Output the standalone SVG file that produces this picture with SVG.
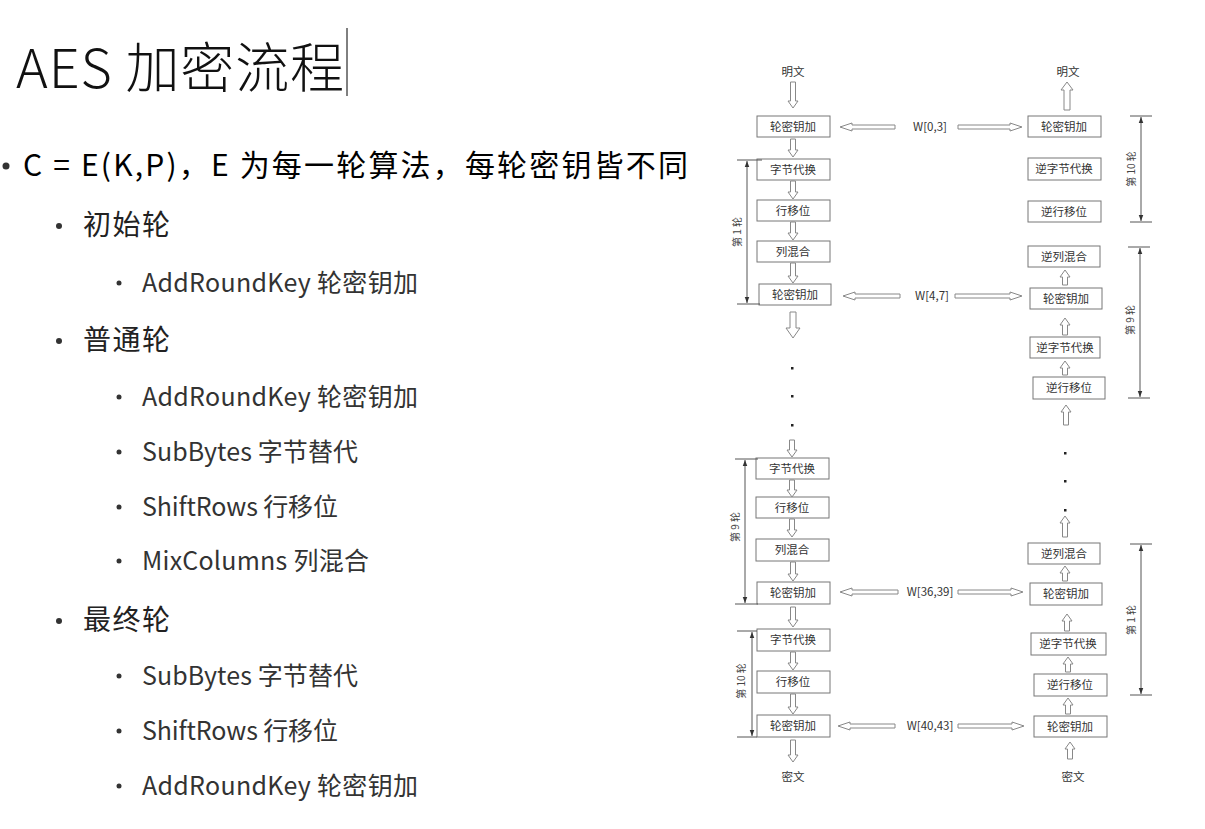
<svg xmlns="http://www.w3.org/2000/svg" width="1205" height="829" viewBox="0 0 1205 829">
<style>
.title{font-family:"Noto Sans CJK SC","Noto Sans",sans-serif;font-weight:300;font-size:54px;fill:#111}
.l1{font-family:"Noto Sans CJK SC","Noto Sans",sans-serif;font-size:30px;fill:#000}
.l2{font-family:"Noto Sans CJK SC","Noto Sans",sans-serif;font-size:28px;fill:#222}
.l3{font-family:"Noto Sans CJK SC","Noto Sans",sans-serif;font-size:25px;fill:#333}
.bul{fill:#333}
.box rect{fill:#fff;stroke:#777;stroke-width:1}
.box text,.lbl{font-family:"Noto Sans CJK SC","Liberation Sans",sans-serif;font-size:11.5px;fill:#333;text-anchor:middle}
.harr path,.varr path{fill:#fff;stroke:#888;stroke-width:1}
.br line{stroke:#555;stroke-width:1}
.rl{font-family:"Noto Sans CJK SC","Liberation Sans",sans-serif;font-size:10px;fill:#444;text-anchor:middle}
.dot{fill:#222}
</style>
<defs>
<marker id="ah" viewBox="0 0 8 8" refX="8" refY="4" markerWidth="6" markerHeight="6" orient="auto-start-reverse" markerUnits="userSpaceOnUse">
<path d="M0 1 L8 4 L0 7 Z" fill="#333"/>
</marker>
</defs>
<rect width="1205" height="829" fill="#fff"/>

<g id="text-panel">
<text class="title" x="16" y="88" textLength="328" lengthAdjust="spacing">AES 加密流程</text>
<line x1="347" y1="28" x2="347" y2="96" stroke="#000" stroke-width="1"/>
<circle class="bul" cx="6" cy="166" r="3.5"/>
<text class="l1" x="23" y="176" textLength="665" lengthAdjust="spacing">C = E(K,P)，E 为每一轮算法，每轮密钥皆不同</text>
<circle class="bul" cx="59" cy="226" r="3"/>
<text class="l2" x="83" y="235" textLength="87" lengthAdjust="spacing">初始轮</text>
<circle class="bul" cx="119" cy="283" r="2.5"/>
<text class="l3" x="142" y="292" textLength="276" lengthAdjust="spacing">AddRoundKey 轮密钥加</text>
<circle class="bul" cx="59" cy="341" r="3"/>
<text class="l2" x="83" y="350" textLength="87" lengthAdjust="spacing">普通轮</text>
<circle class="bul" cx="119" cy="397" r="2.5"/>
<text class="l3" x="142" y="406" textLength="276" lengthAdjust="spacing">AddRoundKey 轮密钥加</text>
<circle class="bul" cx="119" cy="452" r="2.5"/>
<text class="l3" x="142" y="461" textLength="216" lengthAdjust="spacing">SubBytes 字节替代</text>
<circle class="bul" cx="119" cy="507" r="2.5"/>
<text class="l3" x="142" y="516" textLength="196" lengthAdjust="spacing">ShiftRows 行移位</text>
<circle class="bul" cx="119" cy="561" r="2.5"/>
<text class="l3" x="142" y="570" textLength="227" lengthAdjust="spacing">MixColumns 列混合</text>
<circle class="bul" cx="59" cy="621" r="3"/>
<text class="l2" x="83" y="630" textLength="87" lengthAdjust="spacing">最终轮</text>
<circle class="bul" cx="119" cy="676" r="2.5"/>
<text class="l3" x="142" y="685" textLength="216" lengthAdjust="spacing">SubBytes 字节替代</text>
<circle class="bul" cx="119" cy="731" r="2.5"/>
<text class="l3" x="142" y="740" textLength="196" lengthAdjust="spacing">ShiftRows 行移位</text>
<circle class="bul" cx="119" cy="786" r="2.5"/>
<text class="l3" x="142" y="795" textLength="276" lengthAdjust="spacing">AddRoundKey 轮密钥加</text>
</g>

<g id="labels">
<text class="lbl" x="793" y="76">明文</text>
<text class="lbl" x="1068" y="76">明文</text>
<text class="lbl" x="793" y="781">密文</text>
<text class="lbl" x="1073" y="781">密文</text>
<text class="lbl" x="930" y="131">W[0,3]</text>
<text class="lbl" x="932" y="300">W[4,7]</text>
<text class="lbl" x="930" y="596">W[36,39]</text>
<text class="lbl" x="930" y="730">W[40,43]</text>
</g>

<g id="enc-boxes" class="box">
<g id="e1"><rect x="757" y="116" width="73" height="21"/><text x="793" y="131">轮密钥加</text></g>
<g id="e2"><rect x="757" y="159" width="73" height="21"/><text x="793" y="174">字节代换</text></g>
<g id="e3"><rect x="757" y="200" width="73" height="21"/><text x="793" y="215">行移位</text></g>
<g id="e4"><rect x="757" y="241" width="73" height="21"/><text x="793" y="256">列混合</text></g>
<g id="e5"><rect x="759" y="284" width="72" height="21"/><text x="795" y="299">轮密钥加</text></g>
<g id="e6"><rect x="756" y="458" width="73" height="21"/><text x="792" y="473">字节代换</text></g>
<g id="e7"><rect x="756" y="497" width="73" height="21"/><text x="792" y="512">行移位</text></g>
<g id="e8"><rect x="756" y="539" width="73" height="22"/><text x="792" y="554">列混合</text></g>
<g id="e9"><rect x="757" y="582" width="73" height="22"/><text x="793" y="597">轮密钥加</text></g>
<g id="e10"><rect x="757" y="629" width="73" height="22"/><text x="793" y="644">字节代换</text></g>
<g id="e11"><rect x="757" y="671" width="73" height="22"/><text x="793" y="686">行移位</text></g>
<g id="e12"><rect x="757" y="715" width="73" height="22"/><text x="793" y="730">轮密钥加</text></g>
</g>

<g id="dec-boxes" class="box">
<g id="d1"><rect x="1028" y="116" width="73" height="21"/><text x="1064" y="131">轮密钥加</text></g>
<g id="d2"><rect x="1028" y="158" width="73" height="22"/><text x="1064" y="173">逆字节代换</text></g>
<g id="d3"><rect x="1028" y="201" width="73" height="21"/><text x="1064" y="216">逆行移位</text></g>
<g id="d4"><rect x="1028" y="246" width="72" height="21"/><text x="1064" y="261">逆列混合</text></g>
<g id="d5"><rect x="1030" y="288" width="72" height="21"/><text x="1066" y="303">轮密钥加</text></g>
<g id="d6"><rect x="1030" y="337" width="70" height="21"/><text x="1065" y="352">逆字节代换</text></g>
<g id="d7"><rect x="1033" y="377" width="72" height="22"/><text x="1069" y="392">逆行移位</text></g>
<g id="d8"><rect x="1028" y="543" width="72" height="21"/><text x="1064" y="558">逆列混合</text></g>
<g id="d9"><rect x="1030" y="583" width="72" height="22"/><text x="1066" y="598">轮密钥加</text></g>
<g id="d10"><rect x="1031" y="633" width="75" height="22"/><text x="1068" y="648">逆字节代换</text></g>
<g id="d11"><rect x="1034" y="674" width="73" height="22"/><text x="1070" y="689">逆行移位</text></g>
<g id="d12"><rect x="1034" y="716" width="73" height="21"/><text x="1070" y="731">轮密钥加</text></g>
</g>

<g id="connectors">
<g class="varr">
<path d="M790.5 82 V101 H788 L793 108 L798 101 H795.5 V82 Z"/>
<path d="M790.5 139 V150 H788 L793 157 L798 150 H795.5 V139 Z"/>
<path d="M790.5 181 V192 H788 L793 199 L798 192 H795.5 V181 Z"/>
<path d="M790.5 222 V233 H788 L793 240 L798 233 H795.5 V222 Z"/>
<path d="M790.5 263 V276 H788 L793 283 L798 276 H795.5 V263 Z"/>
<path d="M790 312 V328 H786 L793 338 L800 328 H796 V312 Z"/>
<path d="M789.5 440 V450 H787 L792 457 L797 450 H794.5 V440 Z"/>
<path d="M789.5 480 V490 H787 L792 497 L797 490 H794.5 V480 Z"/>
<path d="M789.5 519 V530 H787 L792 537 L797 530 H794.5 V519 Z"/>
<path d="M790.5 562 V574 H788 L793 581 L798 574 H795.5 V562 Z"/>
<path d="M790.5 607 V620 H788 L793 627 L798 620 H795.5 V607 Z"/>
<path d="M790.5 652 V663 H788 L793 670 L798 663 H795.5 V652 Z"/>
<path d="M790.5 694 V707 H788 L793 714 L798 707 H795.5 V694 Z"/>
<path d="M790.5 740 V755 H788 L793 762 L798 755 H795.5 V740 Z"/>
<path d="M1064 110 V90 H1061 L1067 82 L1073 90 H1070 V110 Z"/>
<path d="M1062.5 285 V277 H1060 L1065 270 L1070 277 H1067.5 V285 Z"/>
<path d="M1062.5 335 V325 H1060 L1065 318 L1070 325 H1067.5 V335 Z"/>
<path d="M1062.5 375 V368 H1060 L1065 361 L1070 368 H1067.5 V375 Z"/>
<path d="M1063.5 425 V412 H1061 L1066 405 L1071 412 H1068.5 V425 Z"/>
<path d="M1062.5 537 V523 H1060 L1065 516 L1070 523 H1067.5 V537 Z"/>
<path d="M1062.5 581 V573 H1060 L1065 566 L1070 573 H1067.5 V581 Z"/>
<path d="M1064.5 631 V621 H1062 L1067 614 L1072 621 H1069.5 V631 Z"/>
<path d="M1065.5 672 V664 H1063 L1068 657 L1073 664 H1070.5 V672 Z"/>
<path d="M1065.5 714 V705 H1063 L1068 698 L1073 705 H1070.5 V714 Z"/>
<path d="M1067.5 759 V749 H1065 L1070 742 L1075 749 H1072.5 V759 Z"/>
</g>
<g class="harr">
<path d="M895 125 H852 V123 L840 127 L852 131 V129 H895 Z"/>
<path d="M958 125 H1010 V123 L1022 127 L1010 131 V129 H958 Z"/>
<path d="M900 294 H855 V292 L843 296 L855 300 V298 H900 Z"/>
<path d="M955 294 H1010 V292 L1022 296 L1010 300 V298 H955 Z"/>
<path d="M898 590 H852 V588 L840 592 L852 596 V594 H898 Z"/>
<path d="M958 590 H1011 V588 L1023 592 L1011 596 V594 H958 Z"/>
<path d="M895 724 H850 V722 L838 726 L850 730 V728 H895 Z"/>
<path d="M958 724 H1012 V722 L1024 726 L1012 730 V728 H958 Z"/>
</g>
<g id="dots">
<rect class="dot" x="791" y="367" width="2.5" height="2.5"/>
<rect class="dot" x="791" y="395" width="2.5" height="2.5"/>
<rect class="dot" x="791" y="424" width="2.5" height="2.5"/>
<rect class="dot" x="1064" y="452" width="2.5" height="2.5"/>
<rect class="dot" x="1064" y="480" width="2.5" height="2.5"/>
<rect class="dot" x="1064" y="509" width="2.5" height="2.5"/>
</g>
</g>

<g id="brackets" class="br">
<g id="bl1">
<line x1="737" y1="160" x2="762" y2="160"/><line x1="737" y1="304" x2="760" y2="304"/>
<line x1="747" y1="161" x2="747" y2="303" marker-start="url(#ah)" marker-end="url(#ah)"/>
<text class="rl" transform="translate(741 232) rotate(-90)">第 1 轮</text>
</g>
<g id="bl2">
<line x1="735" y1="459" x2="758" y2="459"/><line x1="735" y1="604" x2="758" y2="604"/>
<line x1="745" y1="460" x2="745" y2="603" marker-start="url(#ah)" marker-end="url(#ah)"/>
<text class="rl" transform="translate(739 527) rotate(-90)">第 9 轮</text>
</g>
<g id="bl3">
<line x1="737" y1="631" x2="757" y2="631"/><line x1="737" y1="737" x2="757" y2="737"/>
<line x1="752" y1="632" x2="752" y2="736" marker-start="url(#ah)" marker-end="url(#ah)"/>
<text class="rl" transform="translate(745 681) rotate(-90)">第 10 轮</text>
</g>
<g id="br1">
<line x1="1130" y1="116" x2="1152" y2="116"/><line x1="1130" y1="222" x2="1152" y2="222"/>
<line x1="1141" y1="117" x2="1141" y2="221" marker-start="url(#ah)" marker-end="url(#ah)"/>
<text class="rl" transform="translate(1135 169) rotate(-90)">第 10 轮</text>
</g>
<g id="br2">
<line x1="1128" y1="247" x2="1150" y2="247"/><line x1="1128" y1="398" x2="1150" y2="398"/>
<line x1="1140" y1="248" x2="1140" y2="397" marker-start="url(#ah)" marker-end="url(#ah)"/>
<text class="rl" transform="translate(1134 320) rotate(-90)">第 9 轮</text>
</g>
<g id="br3">
<line x1="1130" y1="544" x2="1152" y2="544"/><line x1="1130" y1="695" x2="1152" y2="695"/>
<line x1="1141" y1="545" x2="1141" y2="694" marker-start="url(#ah)" marker-end="url(#ah)"/>
<text class="rl" transform="translate(1135 620) rotate(-90)">第 1 轮</text>
</g>
</g>
</svg>
